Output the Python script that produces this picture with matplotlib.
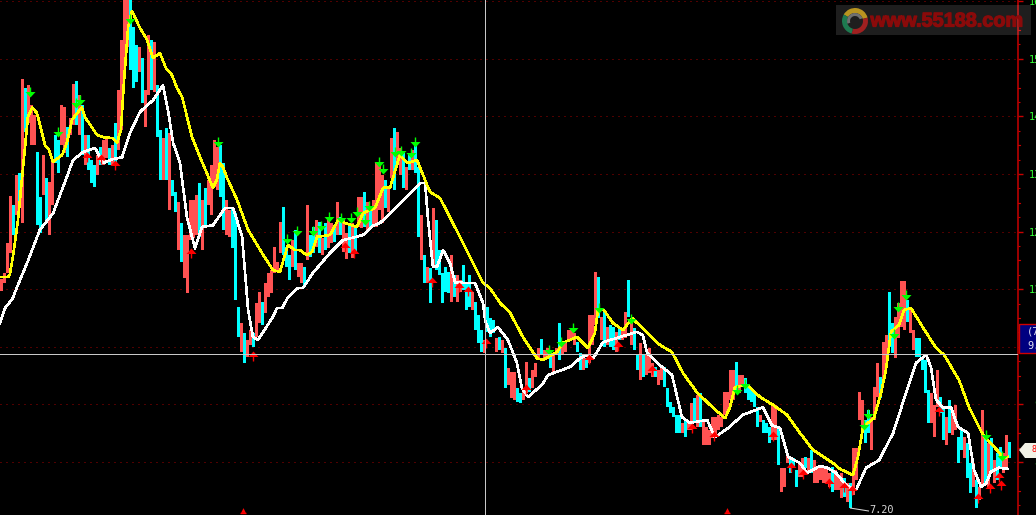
import numpy as np
import matplotlib
matplotlib.use("Agg")
import matplotlib.pyplot as plt
import matplotlib.patheffects as pe
from matplotlib.patches import Rectangle, Polygon, Wedge
from matplotlib.path import Path
from matplotlib.ticker import MultipleLocator
from matplotlib.transforms import IdentityTransform

# === 1. Prices ===
bar_high = [
    11.18, 11.28, 11.80, 12.62, 12.46, 12.98, 13.02, 14.65, 14.49, 14.54,
    14.20, 14.02, 13.38, 12.60, 13.33, 12.93, 12.86, 13.21, 13.68, 13.59,
    14.20, 14.16, 13.82, 13.97, 14.56, 14.61, 14.37, 14.20, 13.68, 13.68,
    13.24, 13.16, 13.33, 13.47, 13.59, 13.61, 13.45, 13.50, 13.88, 14.46,
    15.33, 16.02, 16.02, 16.02, 15.55, 15.24, 15.20, 15.01, 14.46, 15.41,
    15.33, 15.29, 14.54, 13.76, 13.62, 13.80, 13.71, 12.90, 12.69, 12.51,
    12.15, 11.94, 11.94, 12.55, 12.55, 12.63, 12.84, 12.55, 12.76, 12.90,
    13.16, 13.59, 13.47, 13.50, 13.19, 12.55, 12.37, 12.41, 12.32, 10.69,
    10.41, 10.24, 10.12, 10.29, 10.24, 10.76, 10.95, 10.78, 11.11, 11.28,
    11.33, 11.73, 11.47, 12.17, 12.43, 11.73, 11.59, 11.85, 12.03, 11.45,
    11.45, 11.39, 12.46, 11.94, 12.08, 12.20, 12.17, 11.89, 12.15, 12.25,
    12.15, 12.08, 12.51, 12.25, 12.24, 11.98, 12.11, 12.15, 12.08, 12.60,
    12.60, 12.69, 12.51, 12.41, 12.55, 13.21, 13.21, 12.98, 12.90, 12.76,
    13.62, 13.80, 13.73, 13.45, 13.36, 13.12, 13.36, 13.42, 13.54, 13.12,
    12.29, 11.59, 11.39, 11.37, 12.41, 12.20, 11.68, 11.28, 11.39, 11.30,
    11.59, 11.25, 11.25, 11.16, 11.42, 11.11, 11.25, 10.95, 10.78, 10.55,
    10.29, 10.12, 10.69, 10.50, 10.46, 10.15, 10.17, 10.12, 9.98, 9.63,
    9.56, 9.56, 9.28, 9.20, 9.21, 9.74, 9.46, 9.60, 9.72, 9.98,
    10.13, 9.94, 9.98, 9.82, 9.89, 9.98, 10.41, 10.08, 10.08, 10.29,
    10.29, 10.24, 10.08, 9.89, 9.82, 9.80, 10.55, 10.55, 11.30, 11.21,
    10.52, 10.64, 10.34, 10.38, 10.34, 10.26, 10.33, 10.33, 10.60, 11.16,
    10.41, 10.33, 9.86, 10.07, 9.86, 9.86, 9.98, 9.72, 9.65, 9.60,
    9.63, 9.65, 9.28, 9.04, 8.95, 8.82, 8.82, 8.68, 8.73, 8.68,
    9.02, 9.11, 9.16, 9.20, 8.73, 8.61, 8.55, 8.78, 8.78, 8.82,
    8.78, 9.21, 9.21, 9.60, 9.60, 9.74, 9.51, 9.51, 9.46, 9.34,
    9.28, 9.21, 8.95, 8.82, 8.73, 8.68, 8.61, 8.99, 8.99, 8.61,
    7.90, 7.90, 8.16, 8.09, 8.07, 7.86, 7.98, 8.07, 8.09, 8.07,
    8.21, 8.03, 7.90, 7.91, 7.90, 7.90, 7.81, 7.91, 7.86, 7.74,
    7.81, 7.72, 7.63, 7.63, 8.24, 8.24, 9.21, 9.08, 8.73, 8.90,
    8.78, 9.30, 9.72, 9.48, 10.08, 10.20, 10.95, 10.41, 10.52, 10.76,
    11.14, 11.14, 10.81, 10.67, 10.29, 10.15, 10.15, 9.82, 9.77, 9.25,
    9.20, 8.99, 9.60, 9.13, 8.95, 8.78, 9.08, 8.85, 8.99, 8.43,
    8.55, 8.43, 8.33, 7.98, 7.98, 7.69, 7.57, 8.90, 8.43, 8.33,
    8.42, 8.03, 8.16, 8.26, 8.16, 8.47, 8.35,
]
bar_low = [
    10.97, 11.11, 11.28, 11.63, 11.94, 12.29, 12.46, 12.15, 13.73, 13.88,
    13.50, 13.50, 12.11, 11.98, 12.63, 12.15, 11.94, 12.46, 13.19, 13.02,
    13.50, 13.36, 13.29, 13.68, 13.85, 13.85, 13.68, 13.33, 13.16, 13.07,
    12.84, 12.77, 12.98, 13.16, 13.16, 13.28, 13.16, 13.16, 13.16, 13.42,
    13.76, 14.72, 15.20, 14.80, 14.49, 14.60, 14.77, 14.23, 13.82, 14.37,
    14.46, 14.42, 13.64, 12.90, 12.90, 12.90, 12.37, 12.62, 12.34, 11.68,
    11.47, 11.19, 10.93, 11.85, 11.89, 11.94, 11.91, 11.68, 12.06, 12.46,
    12.29, 12.77, 12.72, 12.60, 12.03, 11.94, 11.91, 11.71, 10.81, 10.17,
    9.91, 9.72, 9.82, 10.03, 10.00, 10.17, 10.41, 10.38, 10.59, 10.86,
    10.93, 11.28, 11.33, 11.63, 11.59, 11.39, 11.16, 11.39, 11.33, 11.21,
    11.11, 11.04, 11.51, 11.56, 11.63, 11.73, 11.63, 11.59, 11.68, 11.71,
    11.80, 11.82, 11.94, 11.94, 11.65, 11.52, 11.63, 11.54, 11.65, 12.08,
    12.06, 12.08, 12.03, 12.08, 12.08, 12.08, 12.37, 12.15, 12.41, 12.34,
    12.93, 12.72, 13.21, 12.98, 12.76, 12.72, 13.07, 13.07, 13.02, 11.91,
    11.51, 11.11, 11.11, 10.76, 11.39, 11.33, 11.25, 10.76, 10.95, 10.93,
    10.78, 10.86, 10.78, 10.95, 10.99, 10.64, 10.69, 10.64, 10.29, 10.07,
    9.91, 9.89, 10.26, 10.17, 10.24, 9.91, 9.94, 9.89, 9.28, 9.34,
    9.11, 9.08, 9.04, 9.02, 9.08, 9.20, 9.21, 9.28, 9.48, 9.77,
    9.86, 9.77, 9.82, 9.63, 9.56, 9.86, 9.77, 9.86, 9.91, 10.08,
    10.12, 10.03, 9.91, 9.60, 9.60, 9.63, 9.72, 10.03, 10.38, 10.50,
    10.12, 10.00, 10.03, 10.00, 9.94, 9.91, 10.12, 10.12, 10.15, 10.52,
    10.03, 9.94, 9.60, 9.42, 9.48, 9.51, 9.54, 9.48, 9.48, 9.34,
    9.42, 9.30, 8.95, 8.85, 8.78, 8.50, 8.50, 8.50, 8.43, 8.55,
    8.55, 8.68, 8.61, 8.61, 8.29, 8.29, 8.29, 8.42, 8.47, 8.55,
    8.61, 8.82, 8.87, 9.08, 9.08, 9.20, 9.20, 9.34, 9.20, 9.08,
    9.04, 8.95, 8.61, 8.69, 8.50, 8.50, 8.33, 8.38, 8.38, 7.95,
    7.48, 7.57, 7.98, 7.81, 7.90, 7.57, 7.74, 7.74, 7.90, 7.81,
    7.81, 7.63, 7.63, 7.69, 7.63, 7.63, 7.57, 7.48, 7.51, 7.51,
    7.37, 7.39, 7.30, 7.20, 7.43, 7.69, 8.73, 8.55, 8.33, 8.50,
    8.21, 8.73, 9.13, 9.11, 9.42, 9.65, 10.00, 9.89, 9.80, 10.15,
    10.34, 10.29, 10.43, 10.24, 9.94, 9.82, 9.82, 9.60, 9.20, 8.68,
    8.68, 8.43, 8.95, 8.85, 8.38, 8.29, 8.50, 8.47, 8.55, 7.98,
    8.21, 8.07, 7.72, 7.46, 7.57, 7.20, 7.34, 7.57, 7.63, 7.57,
    7.86, 7.63, 7.69, 7.91, 7.81, 7.86, 8.07,
]
# r = up day, c = down day
bar_dir = (
    "rrrrcrcrcr" "rrccrcrrcc" "rrcrrcrcrc" "ccrcrrcrcr" "rrrcccrcrr"
    "crccrcrccr" "crrrrrcrcr" "rrrccrrccc" "rcrrcrrcrr" "rrrrcccrcr"
    "rcrccrcrcr" "rcrcrrcrcr" "rcrcrrrrcr" "rcrrcrcrcc" "rcrcrccccc"
    "rcrrcccrcc" "crcccrcrcr" "rrccrrcrrr" "crrcrrcrrr" "rrccrcrrrc"
    "rcrccrcrrc" "rccrcrrrcr" "rccccccrcr" "rcrcrrrrrr" "rrrrrcrrcc"
    "cccrcccrrc" "rrrcccrrcr" "crrrrrrcrr" "rcrcrrrrcc" "rrrcrrccrr"
    "rrcrrccccc" "rrrccrcrrc" "crccrcrrcr" "crccrrc"
)

# === 2. Moving averages: (bar number, price) ===
yellow_x = [
    -0.5, 2.2, 2.8, 3.8, 5.5, 7.2, 8.8, 10.2, 11.8, 13.5, 14.5, 15.8, 17.2, 20.2, 21.8, 23.5,
    26.8, 27.8, 31.8, 33.8, 37.2, 38.5, 39.8, 40.8, 42.2, 43.5, 46.2, 48.5, 50.5, 52.8, 54.8,
    56.8, 58.5, 60.2, 63.5, 66.2, 70.5, 71.8, 72.8, 73.8, 75.2, 78.5, 82.2, 86.8, 90.5, 92.8,
    95.5, 97.8, 99.5, 101.8, 103.5, 105.2, 109.5, 112.2, 114.5, 118.5, 120.5, 124.5, 127.2,
    129.5, 132.8, 135.2, 138.5, 142.8, 146.2, 152.8, 157.2, 160.5, 162.8, 166.2, 169.5, 173.8,
    178.5, 180.5, 185.2, 187.2, 191.8, 195.5, 197.8, 198.8, 200.8, 203.8, 207.2, 210.2, 215.2,
    219.5, 223.5, 227.2, 231.8, 237.2, 241.2, 242.8, 244.5, 248.5, 252.8, 257.2, 261.8, 266.2,
    270.5, 277.2, 279.5, 283.8, 285.5, 287.2, 290.8, 293.2, 294.8, 296.5, 299.2, 300.8, 303.2,
    307.2, 311.5, 314.2, 319.2, 322.5, 327.2, 332.5, 333.8, 335.5,
]
yellow_y = [
    11.21, 11.21, 11.26, 11.56, 12.20, 13.12, 13.99, 14.15, 14.06, 13.71, 13.50, 13.42, 13.21, 13.33, 13.54, 13.94,
    14.16, 13.99, 13.68, 13.64, 13.62, 13.54, 13.76, 14.58, 15.55, 15.83, 15.53, 15.33, 15.01, 15.10, 14.84,
    14.72, 14.49, 14.34, 13.64, 13.29, 12.76, 12.90, 13.19, 13.12, 12.93, 12.55, 12.03, 11.63, 11.33, 11.30,
    11.77, 11.68, 11.68, 11.59, 11.65, 11.91, 11.94, 12.20, 12.15, 12.08, 12.32, 12.41, 12.76,
    12.76, 13.33, 13.19, 13.24, 12.69, 12.58, 11.91, 11.45, 11.11, 11.02, 10.76, 10.59, 10.17,
    9.80, 9.77, 9.91, 10.07, 10.17, 9.98, 10.24, 10.64, 10.64, 10.41, 10.29, 10.50, 10.24,
    10.03, 9.91, 9.54, 9.21, 8.94, 8.76, 8.95, 9.30, 9.34, 9.13, 8.99, 8.82, 8.50,
    8.21, 7.98, 7.88, 7.77, 8.09, 8.61, 8.76, 9.20, 9.60, 10.26, 10.38, 10.64, 10.67,
    10.33, 9.98, 9.86, 9.42, 8.95, 8.47, 8.17, 8.07, 8.09,
]
white_x = [
    -0.5, 1.2, 3.8, 5.2, 8.5, 12.8, 17.2, 21.8, 23.8, 27.2, 31.2, 33.8, 37.2, 40.2, 42.8, 46.2,
    50.5, 53.8, 55.5, 57.2, 59.5, 61.8, 64.5, 66.8, 70.5, 74.5, 77.2, 80.2, 82.2, 83.8, 85.5,
    90.5, 91.8, 93.5, 95.5, 98.8, 100.5, 103.8, 109.5, 113.8, 120.5, 123.8, 126.2, 131.8,
    139.5, 141.2, 142.2, 143.8, 145.2, 147.2, 149.5, 151.2, 153.8, 157.8, 160.5, 161.2, 162.8,
    165.5, 168.8, 171.8, 173.5, 175.5, 180.2, 182.2, 189.5, 192.8, 195.2, 197.2, 200.5, 206.2,
    211.8, 213.8, 215.2, 219.5, 223.5, 226.8, 229.5, 235.2, 237.8, 242.2, 247.2, 253.8, 256.8,
    259.5, 262.2, 266.2, 268.5, 272.8, 275.2, 278.2, 281.5, 284.8, 288.2, 292.5, 297.2, 301.5,
    304.8, 308.2, 309.8, 311.5, 313.8, 316.5, 318.8, 322.2, 324.2, 326.5, 328.2, 329.8, 332.5, 335.5,
]
white_y = [
    10.41, 10.67, 10.85, 11.04, 11.45, 12.03, 12.32, 12.95, 13.24, 13.38, 13.45, 13.19, 13.26, 13.29, 13.71, 14.08,
    14.28, 14.54, 14.11, 13.54, 13.19, 12.25, 11.71, 12.08, 12.11, 12.41, 12.41, 11.91, 10.64, 10.17, 10.12,
    10.52, 10.67, 10.67, 10.86, 11.02, 11.02, 11.28, 11.63, 11.85, 11.94, 12.10, 12.15, 12.43,
    12.84, 12.84, 12.20, 11.39, 11.39, 11.68, 11.45, 11.12, 11.11, 11.11, 10.76, 10.46, 10.24,
    10.34, 10.12, 9.72, 9.28, 9.13, 9.34, 9.51, 9.65, 9.80, 9.86, 9.80, 10.08, 10.17,
    10.26, 10.20, 9.89, 9.68, 9.51, 8.78, 8.68, 8.73, 8.43, 8.59, 8.82, 8.95, 8.64,
    8.59, 8.09, 7.98, 7.81, 7.93, 7.90, 7.81, 7.60, 7.51, 7.90, 8.03, 8.50, 9.20,
    9.72, 9.86, 9.65, 9.08, 8.95, 8.95, 8.61, 8.50, 7.86, 7.57, 7.63, 7.83, 7.90, 7.88,
]

# === 3. Signal arrows ===
sell_x = [
    9.5, 18.8, 24.8, 26.2, 42.8, 72.2, 95.2, 98.5, 103.8, 106.5, 109.2, 113.2, 116.5, 118.5, 121.2, 122.5,
    125.8, 127.2, 131.2, 133.2, 136.5, 137.8, 182.5, 186.5, 190.5, 199.2, 209.8, 245.2, 247.8, 287.5,
    288.8, 297.5, 298.8, 301.5, 328.2, 333.5,
]
sell_y = [
    14.42, 13.73, 14.23, 14.28, 15.69, 13.55, 11.87, 12.01, 12.01, 12.10, 12.25, 12.24, 12.24, 12.34, 12.20, 12.44,
    13.21, 13.09, 13.38, 13.40, 13.36, 13.55, 9.94, 10.08, 10.33, 10.67, 10.48, 9.25, 9.35, 8.64,
    8.83, 10.22, 10.69, 10.90, 8.47, 8.10,
]
buy_x = [
    28.5, 33.2, 37.8, 63.2, 83.8, 114.5, 117.5, 143.5, 152.5, 155.5, 161.5, 174.8, 195.8, 205.5,
    216.8, 230.2, 237.5, 257.2, 263.2, 267.2, 275.8, 280.8, 283.5, 312.5, 325.5, 329.5, 332.5, 333.2,
]
buy_y = [
    13.29, 13.26, 13.16, 11.63, 9.84, 11.73, 11.63, 11.12, 11.04, 10.97, 10.07, 9.27, 9.79, 10.01,
    9.60, 8.59, 8.45, 8.45, 7.91, 7.79, 7.63, 7.57, 7.51, 8.89, 7.37, 7.55, 7.74, 7.60,
]
bottom_mark_x = [80.5, 241.8]
cursor_bar = 161
cursor_price = 9.875
low_price = 7.20
y_ticks = [8, 9, 10, 11, 12, 13, 14, 15, 16]
# the 10.00 label sits behind the blue box in the reference
y_labels = [" 8.00", " 9.00", "", "11.00", "12.00", "13.00", "14.00", "15.00", "16.00"]

W, H = 1036, 515
RED = "#FF5252"
CYAN = "#00FFFF"
DARK_RED = "#C80000"


def px(x, y):
    # pixel in the picture (y down) to display coords
    return (x, H - y)


# === 4. Figure and axis ===
fig = plt.figure(figsize=(W / 100, H / 100), dpi=100, facecolor="black")
ax = fig.add_axes([0, 0, 1018 / W, 1], facecolor="black")
ax.set_xlim(-0.5, 338.83)
ax.set_ylim(7.08, 16.02)
for side in ["left", "top", "bottom"]:
    ax.spines[side].set_visible(False)
ax.spines["right"].set_color(DARK_RED)
ax.spines["right"].set_linewidth(1.1)
ax.set_xticks([])
ax.yaxis.tick_right()
ax.set_yticks(y_ticks)
ax.set_yticklabels(y_labels, family="DejaVu Sans Mono", fontsize=7.4, color="#33FF33")
ax.tick_params(axis="y", which="major", color=DARK_RED, length=3.6, width=1, pad=4.2)
ax.yaxis.set_minor_locator(MultipleLocator(0.25))
ax.tick_params(axis="y", which="minor", color=DARK_RED, length=1.2, width=0.8)
ax.set_axisbelow(True)
ax.grid(axis="y", which="major", color="#A00000", lw=0.72, ls=(0, (1, 5)))

# half-way ticks are a bit longer than the quarter ones
for p in np.arange(7.5, 16, 1):
    ax.plot([1, 1 + 2.5 / 1018], [p, p], color=DARK_RED, lw=0.8,
            transform=ax.get_yaxis_transform(), clip_on=False, zorder=2)

# === 5. Bars, averages, arrows ===
idx = np.arange(len(bar_high))
highs = np.array(bar_high)
lows = np.array(bar_low)
colors = [RED if d == "r" else CYAN for d in bar_dir]
ax.bar(idx, highs - lows, bottom=lows, width=1.0, color=colors, linewidth=0,
       antialiased=False, zorder=2)

ax.plot(white_x, white_y, color="white", lw=1.15, zorder=3, antialiased=False)
ax.plot(yellow_x, yellow_y, color="#FFFF00", lw=1.15, zorder=4, antialiased=False)

down_arrow = Path([(-0.14, 1), (0.14, 1), (0.14, 0.1), (1, 0.1), (0, -1), (-1, 0.1), (-0.14, 0.1), (-0.14, 1)], closed=True)
up_arrow = Path([(-0.14, -1), (0.14, -1), (0.14, -0.1), (1, -0.1), (0, 1), (-1, -0.1), (-0.14, -0.1), (-0.14, -1)], closed=True)
ax.scatter(sell_x, sell_y, marker=down_arrow, s=52, color="#00FF00", linewidths=0, zorder=5)
ax.scatter(buy_x, buy_y, marker=up_arrow, s=52, color="#FF0000", linewidths=0, zorder=5)

# crosshair
ax.axvline(cursor_bar, color="#C8C8C8", lw=0.5, zorder=6, antialiased=False)
ax.axhline(cursor_price, color="#C8C8C8", lw=0.5, zorder=6, antialiased=False)

# small marks on the bottom edge
ax.scatter(bottom_mark_x, [7.17] * 2, marker="^", s=12, color="#FF0000", linewidths=0, zorder=5)
ax.scatter(bottom_mark_x, [7.11] * 2, marker="_", s=14, color="#FF0000", linewidths=1, zorder=5)

# lowest price label
low_bar = int(np.argmin(lows[:300]))
ax.plot([low_bar, low_bar + 6], [low_price, low_price - 0.05], color="#D8D8D8", lw=0.75, zorder=6)
ax.text(low_bar + 6.4, low_price - 0.04, "7.20", family="DejaVu Sans Mono", fontsize=7.4,
        color="#D8D8D8", va="center", ha="left", zorder=6)

# === 6. Right-hand boxes ===
ident = IdentityTransform()
fig.add_artist(Rectangle(px(1019, 353), 18, 29, facecolor="#000080", edgecolor="#D00000", lw=1, transform=ident))
fig.text(1027 / W, 1 - 331 / H, "(7", family="DejaVu Sans Mono", fontsize=7.5, color="#E0E0F0", va="center")
fig.text(1027 / W, 1 - 346 / H, "9.", family="DejaVu Sans Mono", fontsize=7.5, color="#E0E0F0", va="center")
fig.add_artist(Polygon([px(1019, 450), px(1025, 443), px(1037, 443), px(1037, 458), px(1025, 458)],
                       closed=True, facecolor="#F2F2E6", edgecolor="none", transform=ident))
fig.text(1031 / W, 1 - 450 / H, "8", family="DejaVu Sans Mono", fontsize=6, color="#FF0000", va="center")

# === 7. Watermark ===
fig.add_artist(Rectangle(px(836, 35), 195, 30, facecolor="white", alpha=0.12, edgecolor="none", transform=ident))
logo_c = px(855, 21)
fig.add_artist(Wedge(logo_c, 13, 15, 150, width=5, facecolor="#B89420", edgecolor="none", transform=ident))
fig.add_artist(Wedge(logo_c, 13, -105, 15, width=5, facecolor="#A02020", edgecolor="none", transform=ident))
fig.add_artist(Wedge(logo_c, 13, 150, 255, width=5, facecolor="#1E7A50", edgecolor="none", transform=ident))
fig.add_artist(Wedge(logo_c, 8, 20, 200, width=3, facecolor="#707070", edgecolor="none", transform=ident))
fig.text(947 / W, 1 - 21 / H, "www.55188.com", family="Liberation Sans", weight="bold", fontsize=14.3,
         color="#8A0A0A", ha="center", va="center",
         path_effects=[pe.withStroke(linewidth=0.9, foreground="#8A0A0A")])

fig.savefig("out.png", dpi=100, facecolor="black")
